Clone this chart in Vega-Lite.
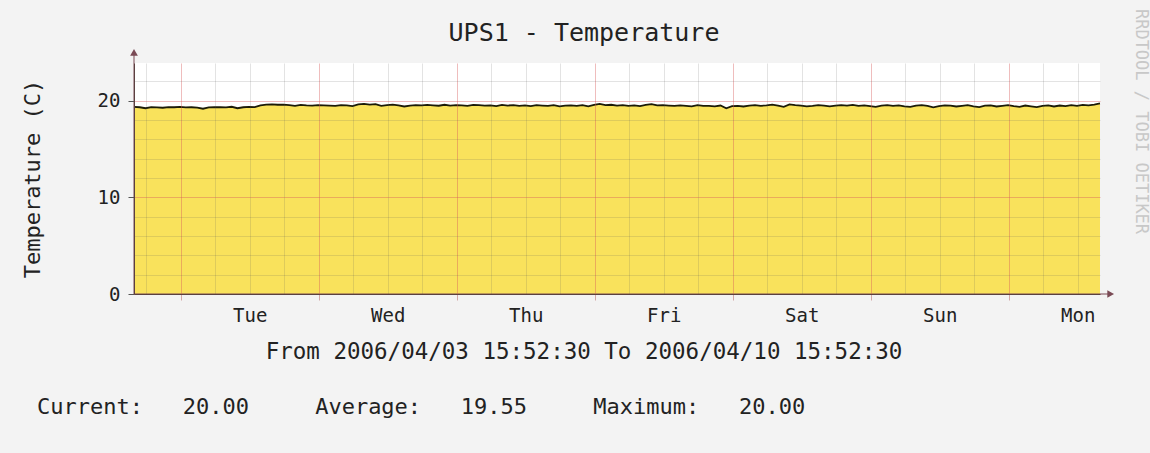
{
  "$schema": "https://vega.github.io/schema/vega-lite/v6.json",
  "width": 966,
  "height": 231,
  "autosize": {"type": "none"},
  "padding": {"left": 134, "top": 63, "right": 50, "bottom": 159},
  "background": "#f3f3f3",
  "config": {
    "view": {"fill": "#ffffff", "stroke": null},
    "font": "DejaVu Sans Mono"
  },
  "title": {
    "text": "Current:\u00a0\u00a0\u00a020.00\u00a0\u00a0\u00a0\u00a0\u00a0Average:\u00a0\u00a0\u00a019.55\u00a0\u00a0\u00a0\u00a0\u00a0Maximum:\u00a0\u00a0\u00a020.00",
    "orient": "bottom",
    "anchor": "start",
    "frame": "group",
    "dx": -97,
    "offset": 34,
    "font": "DejaVu Sans Mono",
    "fontSize": 22,
    "fontWeight": "normal",
    "color": "#222222"
  },
  "data": {
    "values": [
      {"time": "2006-04-03T15:52:30Z", "temp": 19.37},
      {"time": "2006-04-03T16:52:30Z", "temp": 19.32},
      {"time": "2006-04-03T17:52:30Z", "temp": 19.22},
      {"time": "2006-04-03T18:52:30Z", "temp": 19.34},
      {"time": "2006-04-03T19:52:30Z", "temp": 19.30},
      {"time": "2006-04-03T20:52:30Z", "temp": 19.27},
      {"time": "2006-04-03T21:52:30Z", "temp": 19.34},
      {"time": "2006-04-03T22:52:30Z", "temp": 19.32},
      {"time": "2006-04-03T23:52:30Z", "temp": 19.37},
      {"time": "2006-04-04T00:52:30Z", "temp": 19.30},
      {"time": "2006-04-04T01:52:30Z", "temp": 19.32},
      {"time": "2006-04-04T02:52:30Z", "temp": 19.28},
      {"time": "2006-04-04T03:52:30Z", "temp": 19.17},
      {"time": "2006-04-04T04:52:30Z", "temp": 19.30},
      {"time": "2006-04-04T05:52:30Z", "temp": 19.32},
      {"time": "2006-04-04T06:52:30Z", "temp": 19.34},
      {"time": "2006-04-04T07:52:30Z", "temp": 19.30},
      {"time": "2006-04-04T08:52:30Z", "temp": 19.37},
      {"time": "2006-04-04T09:52:30Z", "temp": 19.22},
      {"time": "2006-04-04T10:52:30Z", "temp": 19.32},
      {"time": "2006-04-04T11:52:30Z", "temp": 19.37},
      {"time": "2006-04-04T12:52:30Z", "temp": 19.34},
      {"time": "2006-04-04T13:52:30Z", "temp": 19.52},
      {"time": "2006-04-04T14:52:30Z", "temp": 19.60},
      {"time": "2006-04-04T15:52:30Z", "temp": 19.62},
      {"time": "2006-04-04T16:52:30Z", "temp": 19.58},
      {"time": "2006-04-04T17:52:30Z", "temp": 19.60},
      {"time": "2006-04-04T18:52:30Z", "temp": 19.54},
      {"time": "2006-04-04T19:52:30Z", "temp": 19.47},
      {"time": "2006-04-04T20:52:30Z", "temp": 19.56},
      {"time": "2006-04-04T21:52:30Z", "temp": 19.52},
      {"time": "2006-04-04T22:52:30Z", "temp": 19.50},
      {"time": "2006-04-04T23:52:30Z", "temp": 19.54},
      {"time": "2006-04-05T00:52:30Z", "temp": 19.52},
      {"time": "2006-04-05T01:52:30Z", "temp": 19.50},
      {"time": "2006-04-05T02:52:30Z", "temp": 19.47},
      {"time": "2006-04-05T03:52:30Z", "temp": 19.54},
      {"time": "2006-04-05T04:52:30Z", "temp": 19.52},
      {"time": "2006-04-05T05:52:30Z", "temp": 19.44},
      {"time": "2006-04-05T06:52:30Z", "temp": 19.62},
      {"time": "2006-04-05T07:52:30Z", "temp": 19.67},
      {"time": "2006-04-05T08:52:30Z", "temp": 19.60},
      {"time": "2006-04-05T09:52:30Z", "temp": 19.64},
      {"time": "2006-04-05T10:52:30Z", "temp": 19.47},
      {"time": "2006-04-05T11:52:30Z", "temp": 19.54},
      {"time": "2006-04-05T12:52:30Z", "temp": 19.60},
      {"time": "2006-04-05T13:52:30Z", "temp": 19.52},
      {"time": "2006-04-05T14:52:30Z", "temp": 19.40},
      {"time": "2006-04-05T15:52:30Z", "temp": 19.50},
      {"time": "2006-04-05T16:52:30Z", "temp": 19.54},
      {"time": "2006-04-05T17:52:30Z", "temp": 19.52},
      {"time": "2006-04-05T18:52:30Z", "temp": 19.56},
      {"time": "2006-04-05T19:52:30Z", "temp": 19.52},
      {"time": "2006-04-05T20:52:30Z", "temp": 19.48},
      {"time": "2006-04-05T21:52:30Z", "temp": 19.58},
      {"time": "2006-04-05T22:52:30Z", "temp": 19.50},
      {"time": "2006-04-05T23:52:30Z", "temp": 19.54},
      {"time": "2006-04-06T00:52:30Z", "temp": 19.52},
      {"time": "2006-04-06T01:52:30Z", "temp": 19.47},
      {"time": "2006-04-06T02:52:30Z", "temp": 19.57},
      {"time": "2006-04-06T03:52:30Z", "temp": 19.54},
      {"time": "2006-04-06T04:52:30Z", "temp": 19.50},
      {"time": "2006-04-06T05:52:30Z", "temp": 19.52},
      {"time": "2006-04-06T06:52:30Z", "temp": 19.44},
      {"time": "2006-04-06T07:52:30Z", "temp": 19.57},
      {"time": "2006-04-06T08:52:30Z", "temp": 19.50},
      {"time": "2006-04-06T09:52:30Z", "temp": 19.54},
      {"time": "2006-04-06T10:52:30Z", "temp": 19.47},
      {"time": "2006-04-06T11:52:30Z", "temp": 19.52},
      {"time": "2006-04-06T12:52:30Z", "temp": 19.44},
      {"time": "2006-04-06T13:52:30Z", "temp": 19.54},
      {"time": "2006-04-06T14:52:30Z", "temp": 19.50},
      {"time": "2006-04-06T15:52:30Z", "temp": 19.47},
      {"time": "2006-04-06T16:52:30Z", "temp": 19.54},
      {"time": "2006-04-06T17:52:30Z", "temp": 19.42},
      {"time": "2006-04-06T18:52:30Z", "temp": 19.50},
      {"time": "2006-04-06T19:52:30Z", "temp": 19.52},
      {"time": "2006-04-06T20:52:30Z", "temp": 19.47},
      {"time": "2006-04-06T21:52:30Z", "temp": 19.54},
      {"time": "2006-04-06T22:52:30Z", "temp": 19.42},
      {"time": "2006-04-06T23:52:30Z", "temp": 19.56},
      {"time": "2006-04-07T00:52:30Z", "temp": 19.67},
      {"time": "2006-04-07T01:52:30Z", "temp": 19.54},
      {"time": "2006-04-07T02:52:30Z", "temp": 19.58},
      {"time": "2006-04-07T03:52:30Z", "temp": 19.50},
      {"time": "2006-04-07T04:52:30Z", "temp": 19.54},
      {"time": "2006-04-07T05:52:30Z", "temp": 19.47},
      {"time": "2006-04-07T06:52:30Z", "temp": 19.52},
      {"time": "2006-04-07T07:52:30Z", "temp": 19.44},
      {"time": "2006-04-07T08:52:30Z", "temp": 19.56},
      {"time": "2006-04-07T09:52:30Z", "temp": 19.64},
      {"time": "2006-04-07T10:52:30Z", "temp": 19.52},
      {"time": "2006-04-07T11:52:30Z", "temp": 19.54},
      {"time": "2006-04-07T12:52:30Z", "temp": 19.50},
      {"time": "2006-04-07T13:52:30Z", "temp": 19.46},
      {"time": "2006-04-07T14:52:30Z", "temp": 19.52},
      {"time": "2006-04-07T15:52:30Z", "temp": 19.47},
      {"time": "2006-04-07T16:52:30Z", "temp": 19.42},
      {"time": "2006-04-07T17:52:30Z", "temp": 19.54},
      {"time": "2006-04-07T18:52:30Z", "temp": 19.47},
      {"time": "2006-04-07T19:52:30Z", "temp": 19.47},
      {"time": "2006-04-07T20:52:30Z", "temp": 19.42},
      {"time": "2006-04-07T21:52:30Z", "temp": 19.50},
      {"time": "2006-04-07T22:52:30Z", "temp": 19.22},
      {"time": "2006-04-07T23:52:30Z", "temp": 19.44},
      {"time": "2006-04-08T00:52:30Z", "temp": 19.47},
      {"time": "2006-04-08T01:52:30Z", "temp": 19.40},
      {"time": "2006-04-08T02:52:30Z", "temp": 19.50},
      {"time": "2006-04-08T03:52:30Z", "temp": 19.54},
      {"time": "2006-04-08T04:52:30Z", "temp": 19.47},
      {"time": "2006-04-08T05:52:30Z", "temp": 19.52},
      {"time": "2006-04-08T06:52:30Z", "temp": 19.60},
      {"time": "2006-04-08T07:52:30Z", "temp": 19.50},
      {"time": "2006-04-08T08:52:30Z", "temp": 19.37},
      {"time": "2006-04-08T09:52:30Z", "temp": 19.62},
      {"time": "2006-04-08T10:52:30Z", "temp": 19.54},
      {"time": "2006-04-08T11:52:30Z", "temp": 19.50},
      {"time": "2006-04-08T12:52:30Z", "temp": 19.42},
      {"time": "2006-04-08T13:52:30Z", "temp": 19.47},
      {"time": "2006-04-08T14:52:30Z", "temp": 19.54},
      {"time": "2006-04-08T15:52:30Z", "temp": 19.50},
      {"time": "2006-04-08T16:52:30Z", "temp": 19.42},
      {"time": "2006-04-08T17:52:30Z", "temp": 19.48},
      {"time": "2006-04-08T18:52:30Z", "temp": 19.54},
      {"time": "2006-04-08T19:52:30Z", "temp": 19.50},
      {"time": "2006-04-08T20:52:30Z", "temp": 19.57},
      {"time": "2006-04-08T21:52:30Z", "temp": 19.47},
      {"time": "2006-04-08T22:52:30Z", "temp": 19.52},
      {"time": "2006-04-08T23:52:30Z", "temp": 19.44},
      {"time": "2006-04-09T00:52:30Z", "temp": 19.37},
      {"time": "2006-04-09T01:52:30Z", "temp": 19.50},
      {"time": "2006-04-09T02:52:30Z", "temp": 19.54},
      {"time": "2006-04-09T03:52:30Z", "temp": 19.47},
      {"time": "2006-04-09T04:52:30Z", "temp": 19.52},
      {"time": "2006-04-09T05:52:30Z", "temp": 19.42},
      {"time": "2006-04-09T06:52:30Z", "temp": 19.37},
      {"time": "2006-04-09T07:52:30Z", "temp": 19.50},
      {"time": "2006-04-09T08:52:30Z", "temp": 19.54},
      {"time": "2006-04-09T09:52:30Z", "temp": 19.47},
      {"time": "2006-04-09T10:52:30Z", "temp": 19.32},
      {"time": "2006-04-09T11:52:30Z", "temp": 19.44},
      {"time": "2006-04-09T12:52:30Z", "temp": 19.52},
      {"time": "2006-04-09T13:52:30Z", "temp": 19.50},
      {"time": "2006-04-09T14:52:30Z", "temp": 19.40},
      {"time": "2006-04-09T15:52:30Z", "temp": 19.47},
      {"time": "2006-04-09T16:52:30Z", "temp": 19.54},
      {"time": "2006-04-09T17:52:30Z", "temp": 19.42},
      {"time": "2006-04-09T18:52:30Z", "temp": 19.34},
      {"time": "2006-04-09T19:52:30Z", "temp": 19.48},
      {"time": "2006-04-09T20:52:30Z", "temp": 19.52},
      {"time": "2006-04-09T21:52:30Z", "temp": 19.40},
      {"time": "2006-04-09T22:52:30Z", "temp": 19.47},
      {"time": "2006-04-09T23:52:30Z", "temp": 19.54},
      {"time": "2006-04-10T00:52:30Z", "temp": 19.44},
      {"time": "2006-04-10T01:52:30Z", "temp": 19.37},
      {"time": "2006-04-10T02:52:30Z", "temp": 19.50},
      {"time": "2006-04-10T03:52:30Z", "temp": 19.42},
      {"time": "2006-04-10T04:52:30Z", "temp": 19.34},
      {"time": "2006-04-10T05:52:30Z", "temp": 19.47},
      {"time": "2006-04-10T06:52:30Z", "temp": 19.52},
      {"time": "2006-04-10T07:52:30Z", "temp": 19.40},
      {"time": "2006-04-10T08:52:30Z", "temp": 19.50},
      {"time": "2006-04-10T09:52:30Z", "temp": 19.44},
      {"time": "2006-04-10T10:52:30Z", "temp": 19.54},
      {"time": "2006-04-10T11:52:30Z", "temp": 19.47},
      {"time": "2006-04-10T12:52:30Z", "temp": 19.57},
      {"time": "2006-04-10T13:52:30Z", "temp": 19.52},
      {"time": "2006-04-10T14:52:30Z", "temp": 19.60},
      {"time": "2006-04-10T15:52:30Z", "temp": 19.72}
    ]
  },
  "resolve": {"axis": {"x": "independent", "y": "independent"}},
  "layer": [
    {
      "mark": {"type": "area", "color": "#F9E25C", "opacity": 1, "interpolate": "linear"},
      "encoding": {
        "x": {
          "field": "time",
          "type": "temporal",
          "scale": {"type": "utc", "domain": [1144079550000, 1144684350000], "nice": false},
          "axis": {
            "orient": "bottom",
            "values": [1144087200000, 1144108800000, 1144130400000, 1144152000000, 1144173600000, 1144195200000, 1144216800000, 1144238400000, 1144260000000, 1144281600000, 1144303200000, 1144324800000, 1144346400000, 1144368000000, 1144389600000, 1144411200000, 1144432800000, 1144454400000, 1144476000000, 1144497600000, 1144519200000, 1144540800000, 1144562400000, 1144584000000, 1144605600000, 1144627200000, 1144648800000, 1144670400000],
            "labelExpr": "utchours(datum.value) == 12 ? utcFormat(datum.value, '%a') : ''",
            "labelFont": "DejaVu Sans Mono",
            "labelFontSize": 19,
            "labelColor": "#222222",
            "labelPadding": 6,
            "labelOverlap": false,
            "labelFlush": false,
            "labelBound": false,
            "tickSize": 6,
            "tickColor": {"condition": {"test": "utchours(datum.value) == 0", "value": "rgba(190,120,120,0.6)"}, "value": "rgba(0,0,0,0)"},
            "grid": true,
            "gridColor": {"condition": {"test": "utchours(datum.value) == 0", "value": "rgba(215,90,90,0.4)"}, "value": "rgba(90,90,90,0.17)"},
            "domainColor": "#5a4040",
            "title": "From 2006/04/03 15:52:30 To 2006/04/10 15:52:30",
            "titleFont": "DejaVu Sans Mono",
            "titleFontSize": 22.5,
            "titleFontWeight": "normal",
            "titleColor": "#222222",
            "titleX": 449.5,
            "titleY": 57,
            "titleAlign": "center",
            "titleBaseline": "middle",
            "zindex": 1
          }
        },
        "y": {
          "field": "temp",
          "type": "quantitative",
          "scale": {"domain": [0, 23.9], "nice": false, "zero": true},
          "axis": {
            "orient": "left",
            "values": [0, 2, 4, 6, 8, 10, 12, 14, 16, 18, 20, 22],
            "labelExpr": "datum.value % 10 == 0 ? datum.label : ''",
            "labelFont": "DejaVu Sans Mono",
            "labelFontSize": 19,
            "labelColor": "#222222",
            "labelPadding": 8,
            "labelOverlap": false,
            "tickSize": 6,
            "tickColor": {"condition": {"test": "datum.value % 10 == 0", "value": "#555555"}, "value": "rgba(0,0,0,0)"},
            "grid": true,
            "gridColor": {"condition": {"test": "datum.value % 10 == 0", "value": "rgba(215,90,90,0.4)"}, "value": "rgba(90,90,90,0.17)"},
            "domainColor": "#5a4040",
            "title": "Temperature (C)",
            "titleFont": "DejaVu Sans Mono",
            "titleFontSize": 22,
            "titleFontWeight": "normal",
            "titleColor": "#222222",
            "titleAngle": -90,
            "titleX": -102,
            "titleY": 115.5,
            "titleAlign": "center",
            "titleBaseline": "middle",
            "zindex": 1
          }
        }
      }
    },
    {
      "mark": {"type": "line", "color": "#1c1c08", "strokeWidth": 1.8, "interpolate": "linear"},
      "encoding": {
        "x": {
          "field": "time",
          "type": "temporal",
          "axis": {
            "orient": "top",
            "domain": false,
            "ticks": false,
            "labels": false,
            "grid": false,
            "title": "UPS1 - Temperature",
            "titleFont": "DejaVu Sans Mono",
            "titleFontSize": 25,
            "titleFontWeight": "normal",
            "titleColor": "#222222",
            "titleX": 449.5,
            "titleY": -31,
            "titleAlign": "center",
            "titleBaseline": "middle"
          }
        },
        "y": {
          "field": "temp",
          "type": "quantitative",
          "axis": {
            "orient": "right",
            "domain": false,
            "ticks": false,
            "labels": false,
            "grid": false,
            "title": "RRDTOOL / TOBI OETIKER",
            "titleFont": "DejaVu Sans Mono",
            "titleFontSize": 17,
            "titleFontWeight": "normal",
            "titleColor": "#c8c8c8",
            "titleAngle": 90,
            "titleX": 40,
            "titleY": 58,
            "titleAlign": "center",
            "titleBaseline": "middle"
          }
        }
      }
    },
    {
      "data": {"values": [{}]},
      "mark": {"type": "rule", "color": "#7a4a55", "strokeWidth": 1},
      "encoding": {
        "x": {"datum": 1144079550000, "type": "temporal", "axis": null},
        "y": {"datum": 0, "type": "quantitative", "axis": null},
        "y2": {"datum": 24.9}
      }
    },
    {
      "data": {"values": [{}]},
      "mark": {"type": "rule", "color": "#7a4a55", "strokeWidth": 1},
      "encoding": {
        "x": {"datum": 1144079550000, "type": "temporal", "axis": null},
        "x2": {"datum": 1144691046000},
        "y": {"datum": 0, "type": "quantitative", "axis": null}
      }
    },
    {
      "data": {"values": [{}]},
      "mark": {"type": "point", "shape": "triangle-up", "filled": true, "size": 60, "color": "#7a4a55", "opacity": 1},
      "encoding": {
        "x": {"datum": 1144079550000, "type": "temporal", "axis": null},
        "y": {"datum": 25.0, "type": "quantitative", "axis": null}
      }
    },
    {
      "data": {"values": [{}]},
      "mark": {"type": "point", "shape": "triangle-right", "filled": true, "size": 60, "color": "#7a4a55", "opacity": 1},
      "encoding": {
        "x": {"datum": 1144691046000, "type": "temporal", "axis": null},
        "y": {"datum": 0, "type": "quantitative", "axis": null}
      }
    }
  ]
}
